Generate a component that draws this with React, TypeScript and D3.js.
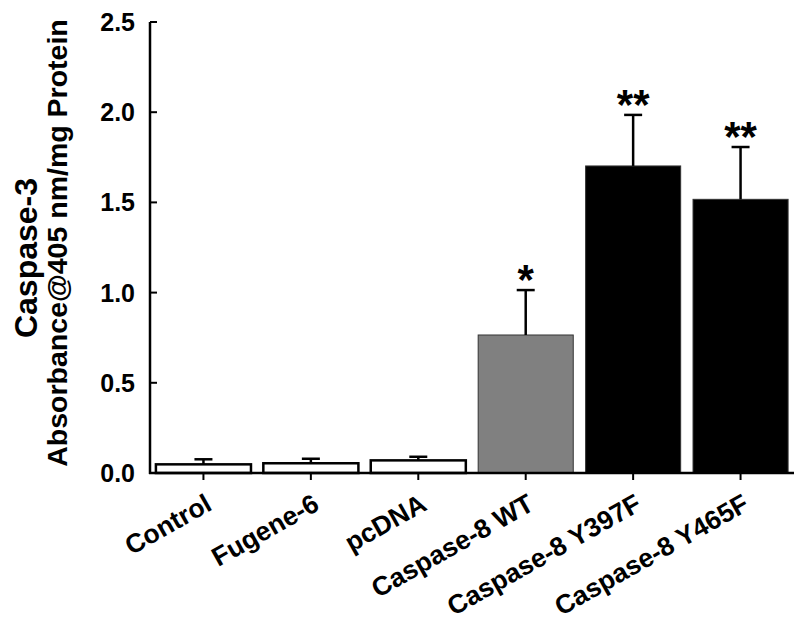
import React, { useEffect } from "react";
import * as d3 from "d3";

// values
const groups = ["Control", "Fugene-6", "pcDNA", "Caspase-8 WT", "Caspase-8 Y397F", "Caspase-8 Y465F"];
const means = [0.048, 0.054, 0.07, 0.765, 1.702, 1.517];
const errors = [0.028, 0.025, 0.02, 0.249, 0.283, 0.29];
const marks = ["", "", "", "*", "**", "**"];
const fills = ["#ffffff", "#ffffff", "#ffffff", "#808080", "#000000", "#000000"];
const yTicks = [0, 0.5, 1.0, 1.5, 2.0, 2.5];

const W = 794;
const H = 625;
const left = 150;
const right = 794;
const top = 22;
const bottom = 473;
const font = "'Liberation Sans', Arial, Helvetica, sans-serif";

const App = () => {
  useEffect(() => {
    document.body.style.margin = "0";
  }, []);

  const x = d3.scaleBand<string>()
    .domain(groups)
    .range([left, right])
    .paddingInner(0.115)
    .paddingOuter(0.055);
  const y = d3.scaleLinear().domain([0, 2.5]).range([bottom, top]);
  const bw = x.bandwidth();

  return (
    <svg width={W} height={H} style={{ display: "block", background: "#fff" }} fontFamily={font} fontWeight="bold">
      {/* bars */}
      {groups.map((g, i) => {
        const light = fills[i] === "#ffffff";
        return (
          <rect
            key={g}
            x={x(g)!}
            y={y(means[i])}
            width={bw}
            height={bottom - y(means[i])}
            fill={fills[i]}
            stroke={light ? "#000" : "#333"}
            strokeWidth={light ? 2.5 : 1}
          />
        );
      })}

      {/* error bars */}
      {groups.map((g, i) => {
        const cx = x(g)! + bw / 2;
        const yt = y(means[i] + errors[i]);
        return (
          <g key={g} stroke="#000" strokeWidth={2.5}>
            <line x1={cx} x2={cx} y1={y(means[i])} y2={yt} />
            <line x1={cx - 9} x2={cx + 9} y1={yt} y2={yt} />
          </g>
        );
      })}

      {/* significance marks */}
      {groups.map((g, i) => (
        <text key={g} x={x(g)! + bw / 2} y={y(means[i] + errors[i]) + 4} textAnchor="middle" fontSize={42}>
          {marks[i]}
        </text>
      ))}

      {/* y axis */}
      <line x1={left} x2={left} y1={top} y2={bottom + 1} stroke="#000" strokeWidth={2.5} />
      {yTicks.map((t) => (
        <g key={t}>
          <line x1={left} x2={left + 7} y1={y(t)} y2={y(t)} stroke="#000" strokeWidth={2} />
          <text x={135} y={y(t)} dy="0.36em" textAnchor="end" fontSize={25}>
            {d3.format(".1f")(t)}
          </text>
        </g>
      ))}

      {/* x axis */}
      <line x1={left - 1} x2={right} y1={bottom} y2={bottom} stroke="#000" strokeWidth={2.5} />
      {groups.map((g) => {
        const cx = x(g)! + bw / 2;
        return (
          <g key={g}>
            <line x1={cx} x2={cx} y1={bottom} y2={bottom + 7} stroke="#000" strokeWidth={2} />
            <text transform={`translate(${cx + 10},${bottom + 36}) rotate(-29.5)`} textAnchor="end" fontSize={26.5}>
              {g}
            </text>
          </g>
        );
      })}

      {/* y titles */}
      <text transform="translate(37,258) rotate(-90)" textAnchor="middle" fontSize={32}>
        Caspase-3
      </text>
      <text transform="translate(67,243) rotate(-90)" textAnchor="middle" fontSize={28.5}>
        Absorbance@405 nm/mg Protein
      </text>
    </svg>
  );
};

export default App;
